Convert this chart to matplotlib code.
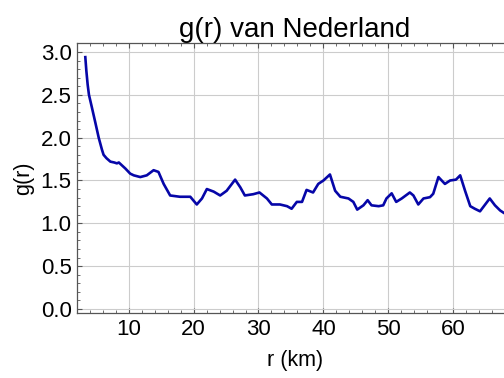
import numpy as np
import matplotlib.pyplot as plt
from matplotlib.ticker import MultipleLocator

plt.rcParams['font.family'] = ['Liberation Sans', 'DejaVu Sans']

# r (km) and g(r)
r = [3.34, 3.5, 3.7, 3.9, 4.3, 4.9, 5.4, 5.9, 6.15, 6.6, 7.2, 7.8, 8.2, 8.5, 9.0,
     9.5, 10.25, 10.8, 11.8, 12.8, 13.85, 14.6, 15.4, 16.4, 17.9, 19.5, 20.5,
     21.3, 22.05, 23.1, 24.1, 25.1, 26.4, 27.2, 27.9, 29.2, 30.15, 31.3, 32.05,
     33.3, 34.4, 35.1, 35.9, 36.7, 37.4, 38.4, 39.2, 40.0, 41.0, 41.8, 42.6,
     43.85, 44.6, 45.2, 46.15, 46.8, 47.4, 48.5, 49.2, 49.7, 50.5, 51.2, 52.05,
     53.3, 53.85, 54.6, 55.4, 56.4, 56.9, 57.7, 58.7, 59.5, 60.4, 61.05, 61.8,
     62.6, 63.3, 64.1, 64.9, 65.6, 66.4, 67.2, 67.8, 68.5, 69.1]
g = [2.94, 2.78, 2.62, 2.50, 2.37, 2.17, 2.00, 1.86, 1.80, 1.76, 1.72, 1.71, 1.70,
     1.71, 1.675, 1.64, 1.58, 1.56, 1.54, 1.56, 1.62, 1.60, 1.46, 1.325, 1.31,
     1.31, 1.22, 1.29, 1.40, 1.37, 1.325, 1.38, 1.51, 1.42, 1.325, 1.34, 1.36,
     1.29, 1.22, 1.22, 1.20, 1.17, 1.25, 1.25, 1.39, 1.36, 1.46, 1.50, 1.57,
     1.38, 1.31, 1.29, 1.25, 1.16, 1.21, 1.27, 1.21, 1.20, 1.21, 1.29, 1.35,
     1.25, 1.29, 1.36, 1.325, 1.22, 1.29, 1.305, 1.345, 1.54, 1.46, 1.50, 1.51,
     1.56, 1.38, 1.20, 1.17, 1.14, 1.22, 1.29, 1.21, 1.15, 1.12, 1.10, 1.09]

fig = plt.figure(figsize=(5.04, 3.78), dpi=100)
ax = fig.add_axes([77 / 504, 65 / 378, 436 / 504, 270 / 378])

ax.plot(r, g, color='#0606A8', lw=1.9)

ax.set_xlim(2.06, 69.18)
ax.set_ylim(-0.047, 3.105)
ax.xaxis.set_major_locator(MultipleLocator(10))
ax.xaxis.set_minor_locator(MultipleLocator(2))
ax.yaxis.set_major_locator(MultipleLocator(0.5))
ax.yaxis.set_minor_locator(MultipleLocator(0.1))
ax.yaxis.set_major_formatter(plt.FormatStrFormatter('%.1f'))

ax.grid(True, which='major', color='#cccccc', lw=0.8)
for s in ax.spines.values():
    s.set_color('#555555')
    s.set_linewidth(0.9)
ax.tick_params(which='both', direction='in', top=True, right=True,
               color='#555555', labelsize=16)
ax.tick_params(axis='x', pad=4.3)
ax.tick_params(axis='y', pad=3.8)
ax.tick_params(which='major', length=3.8)
ax.tick_params(which='minor', length=2.2)

ax.set_title('g(r) van Nederland', fontsize=20, pad=2)
ax.set_xlabel('r (km)', fontsize=15.5, labelpad=7)
ax.set_ylabel('g(r)', fontsize=15.5, labelpad=5)

fig.savefig('out.png', dpi=100)
